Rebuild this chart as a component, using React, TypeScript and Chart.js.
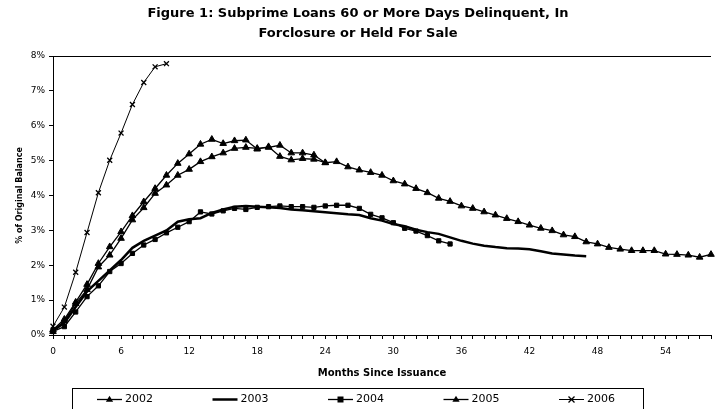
import React, { useEffect, useRef } from 'react';
import { Chart, registerables } from 'chart.js';

Chart.register(...registerables);

const FONT = "'DejaVu Sans', Verdana, sans-serif";

const titleLines = [
  'Figure 1: Subprime Loans 60 or More Days Delinquent, In',
  'Forclosure or Held For Sale',
];
const xTitle = 'Months Since Issuance';
const yTitle = '% of Original Balance';

const seriesLabels = ['2002', '2003', '2004', '2005', '2006'];

// values in % by month since issuance (month = index)
const v2002 = [
  0.1, 0.4, 0.9, 1.3, 1.95, 2.29, 2.77, 3.3, 3.65, 4.06, 4.3, 4.58, 4.75, 4.97, 5.11, 5.22, 5.35, 5.38, 5.35, 5.38,
  5.44, 5.22, 5.22, 5.16, 4.94, 4.97, 4.82, 4.73, 4.66, 4.58, 4.42, 4.33, 4.2, 4.08, 3.92, 3.83, 3.7, 3.63, 3.53, 3.44,
  3.34, 3.25, 3.15, 3.06, 2.99, 2.87, 2.82, 2.67, 2.61, 2.51, 2.46, 2.42, 2.42, 2.42, 2.32, 2.31, 2.29, 2.23, 2.31,
];
const v2003 = [
  0.12, 0.35, 0.8, 1.25, 1.55, 1.85, 2.15, 2.5, 2.7, 2.85, 3.0, 3.25, 3.32, 3.35, 3.5, 3.6, 3.68, 3.7, 3.68, 3.66,
  3.64, 3.6, 3.58, 3.55, 3.52, 3.49, 3.46, 3.44, 3.35, 3.28, 3.18, 3.12, 3.02, 2.95, 2.9, 2.8, 2.7, 2.62, 2.56, 2.52,
  2.49, 2.48, 2.46, 2.4, 2.34, 2.31, 2.28, 2.26,
];
const v2004 = [
  0.1, 0.24, 0.66, 1.1, 1.41, 1.82, 2.05, 2.34, 2.58, 2.74, 2.93, 3.09, 3.25, 3.53, 3.47, 3.56, 3.63, 3.6, 3.66, 3.68,
  3.7, 3.68, 3.68, 3.66, 3.7, 3.72, 3.72, 3.63, 3.46, 3.36, 3.22, 3.06, 2.98, 2.85, 2.7, 2.61,
];
const v2005 = [
  0.15, 0.45, 0.94, 1.45, 2.05, 2.53, 2.96, 3.42, 3.82, 4.2, 4.58, 4.92, 5.19, 5.47, 5.61, 5.49, 5.57, 5.59, 5.33, 5.4,
  5.12, 5.02, 5.06, 5.04, 4.94,
];
const v2006 = [0.25, 0.8, 1.8, 2.94, 4.08, 5.01, 5.79, 6.61, 7.24, 7.69, 7.78];

const xMin = 0;
const xMax = 58;
const xLabelStep = 6;
const xLastLabel = 54;
const yMin = 0;
const yMax = 8;
const yStep = 1;

const toPoints = (vals: number[]) => vals.map((y, i) => ({ x: i, y }));

type Marker = 'triangle' | 'none' | 'rect' | 'crossRot';
const markers: Marker[] = ['triangle', 'none', 'rect', 'triangle', 'crossRot'];
const lineWidths = [1.3, 2.5, 1.3, 1.3, 1];

function drawMarker(ctx: CanvasRenderingContext2D, m: Marker, x: number, y: number) {
  ctx.save();
  ctx.fillStyle = '#000';
  ctx.strokeStyle = '#000';
  if (m === 'triangle') {
    const r = 3.8;
    ctx.beginPath();
    ctx.moveTo(x, y - r);
    ctx.lineTo(x + r * 0.95, y + r * 0.6);
    ctx.lineTo(x - r * 0.95, y + r * 0.6);
    ctx.closePath();
    ctx.fill();
  } else if (m === 'rect') {
    ctx.fillRect(x - 3, y - 3, 6, 6);
  } else if (m === 'crossRot') {
    ctx.lineWidth = 1.3;
    ctx.beginPath();
    ctx.moveTo(x - 3, y - 3);
    ctx.lineTo(x + 3, y + 3);
    ctx.moveTo(x + 3, y - 3);
    ctx.lineTo(x - 3, y + 3);
    ctx.stroke();
  }
  ctx.restore();
}

const frameAndLegend = {
  id: 'frameAndLegend',
  afterDraw(chart: any) {
    const { ctx, chartArea } = chart;
    ctx.save();
    // top border of plot area
    ctx.strokeStyle = '#000';
    ctx.lineWidth = 1;
    ctx.beginPath();
    ctx.moveTo(chartArea.left, Math.round(chartArea.top) + 0.5);
    ctx.lineTo(chartArea.right, Math.round(chartArea.top) + 0.5);
    ctx.stroke();

    // legend box
    const boxL = 72.5;
    const boxT = 388.5;
    const boxW = 571;
    const boxH = 30;
    ctx.strokeRect(boxL, boxT, boxW, boxH);

    const startX = 97;
    const step = 115.5;
    const cy = 399.5;
    ctx.font = `11px ${FONT}`;
    ctx.textBaseline = 'middle';
    ctx.textAlign = 'left';
    chart.data.datasets.forEach((ds: any, i: number) => {
      const x0 = startX + i * step;
      ctx.strokeStyle = '#000';
      ctx.lineWidth = lineWidths[i];
      ctx.beginPath();
      ctx.moveTo(x0, cy);
      ctx.lineTo(x0 + 25, cy);
      ctx.stroke();
      drawMarker(ctx, markers[i], x0 + 12.5, cy);
      ctx.fillStyle = '#000';
      ctx.fillText(ds.label, x0 + 28, cy);
    });
    ctx.restore();
  },
};

export default function App() {
  const ref = useRef<HTMLCanvasElement>(null);

  useEffect(() => {
    if (!ref.current) return;
    const allValues = [v2002, v2003, v2004, v2005, v2006];
    const datasets = allValues.map((vals, i) => {
      const m = markers[i];
      return {
        label: seriesLabels[i],
        data: toPoints(vals),
        borderColor: '#000',
        backgroundColor: '#000',
        pointBackgroundColor: '#000',
        pointBorderColor: '#000',
        borderWidth: lineWidths[i],
        pointStyle: m === 'none' ? 'circle' : m,
        pointRadius: m === 'none' ? 0 : m === 'crossRot' ? 3.5 : m === 'rect' ? 3 : 3.8,
        pointBorderWidth: m === 'crossRot' ? 1.3 : 1,
        tension: 0,
        clip: false as any,
      };
    });

    const chart = new Chart(ref.current, {
      type: 'line',
      data: { datasets },
      plugins: [frameAndLegend],
      options: {
        responsive: false,
        animation: false,
        events: [],
        layout: { padding: { left: 0, right: 2, top: 0, bottom: 26 } },
        plugins: {
          legend: { display: false },
          tooltip: { enabled: false },
          title: {
            display: true,
            text: titleLines,
            color: '#000',
            font: { family: FONT, size: 13, weight: 'bold', lineHeight: 1.5 },
            padding: { top: 4, bottom: 13 },
          },
        },
        scales: {
          x: {
            type: 'linear',
            min: xMin,
            max: xMax,
            afterFit: (s: any) => {
              s.height = 48;
            },
            ticks: {
              stepSize: 1,
              autoSkip: false,
              maxRotation: 0,
              color: '#000',
              padding: 7,
              font: { family: FONT, size: 9 },
              callback: (v: any) => (v % xLabelStep === 0 && v <= xLastLabel ? String(v) : ''),
            },
            grid: { drawOnChartArea: false, drawTicks: true, tickLength: 4, color: '#000' },
            border: { color: '#000', width: 1 },
            title: {
              display: true,
              text: xTitle,
              color: '#000',
              font: { family: FONT, size: 10, weight: 'bold', lineHeight: 1.2 },
              padding: { top: 0, bottom: 4 },
            },
          },
          y: {
            type: 'linear',
            min: yMin,
            max: yMax,
            afterFit: (s: any) => {
              s.width = 53;
            },
            ticks: {
              stepSize: yStep,
              color: '#000',
              padding: 4,
              font: { family: FONT, size: 9 },
              callback: (v: any) => `${v}%`,
            },
            grid: { drawOnChartArea: false, drawTicks: true, tickLength: 4, color: '#000' },
            border: { color: '#000', width: 1 },
            title: {
              display: true,
              text: yTitle,
              color: '#000',
              font: { family: FONT, size: 8, weight: 'bold', lineHeight: 1.2 },
              padding: { top: 15, bottom: 0 },
            },
          },
        },
      },
    } as any);
    return () => chart.destroy();
  }, []);

  return (
    <div style={{ position: 'fixed', left: 0, top: 0, width: 718, height: 409, background: '#fff' }}>
      <canvas ref={ref} width={718} height={409} style={{ display: 'block' }} />
    </div>
  );
}
